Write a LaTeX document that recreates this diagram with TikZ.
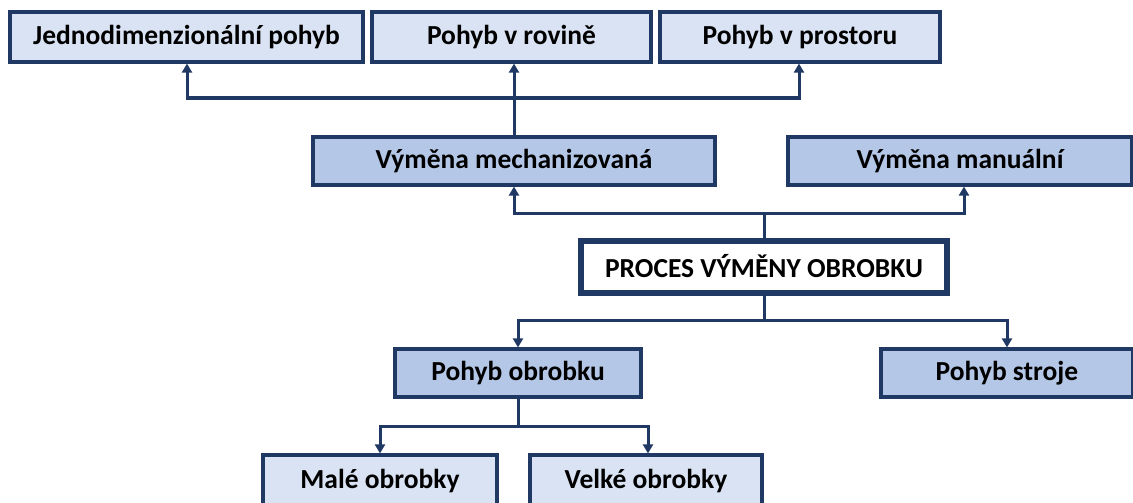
\documentclass[tikz,border=0pt]{standalone}
\usepackage{fontspec}
\setmainfont{Carlito}
\usetikzlibrary{arrows.meta}
\definecolor{navy}{HTML}{203864}
\definecolor{lightfill}{HTML}{DAE3F3}
\definecolor{midfill}{HTML}{B4C7E7}
\tikzset{
  box/.style={draw=navy, line width=3.2pt, font=\bfseries\fontsize{27.5}{30}\selectfont, inner sep=0pt, text=black},
  lightbox/.style={box, fill=lightfill},
  midbox/.style={box, fill=midfill},
  mainbox/.style={box, draw=navy, line width=6pt, fill=white},
  conn/.style={draw=navy, line width=3pt},
  arr/.style={conn, -{Triangle[length=9pt,width=10pt]}}
}
\begin{document}
\begin{tikzpicture}[x=1pt,y=-1pt]
\useasboundingbox (0,0) rectangle (1133,503);
% top row
\node[lightbox, minimum width=353pt, minimum height=50pt] (jed) at (186.5,37) {Jednodimenzionální pohyb};
\node[lightbox, minimum width=279pt, minimum height=50pt] (rov) at (511.5,37) {Pohyb v rovině};
\node[lightbox, minimum width=280pt, minimum height=50pt] (pro) at (800,37) {Pohyb v prostoru};
% second row
\node[midbox, minimum width=402pt, minimum height=48pt] (mech) at (514,161) {Výměna mechanizovaná};
\node[midbox, minimum width=344pt, minimum height=48pt] (man) at (960,161) {Výměna manuální};
% main
\node[mainbox, minimum width=366pt, minimum height=52pt] (proc) at (764,266.5) {PROCES VÝMĚNY OBROBKU};
% fourth row
\node[midbox, minimum width=246pt, minimum height=48pt] (pob) at (518,373) {Pohyb obrobku};
\node[midbox, minimum width=252pt, minimum height=48pt] (pst) at (1007,373) {Pohyb stroje};
% bottom row
\node[lightbox, minimum width=234pt, minimum height=52pt] (mal) at (380,481) {Malé obrobky};
\node[lightbox, minimum width=232pt, minimum height=52pt] (vel) at (646,481) {Velké obrobky};
% coordinates
\coordinate (t1) at (514,98);
\coordinate (t2) at (764,213);
\coordinate (t3) at (764,320);
\coordinate (t4) at (518,426);
% connectors top
\draw[conn] (mech.north -| t1) -- (t1);
\draw[arr] (t1) -- (rov.south -| t1);
\draw[arr] (t1) -| ([xshift=0.5pt]jed.south);
\draw[arr] (t1) -| ([xshift=-1pt]pro.south);
% connectors to second row
\draw[conn] (proc.north) -- (t2);
\draw[arr] (t2) -| (mech.south);
\draw[arr] (t2) -| ([xshift=4pt]man.south);
% connectors to fourth row
\draw[conn] (proc.south) -- (t3);
\draw[arr] (t3) -| (pob.north);
\draw[arr] (t3) -| (pst.north);
% connectors bottom
\draw[conn] (pob.south) -- (t4);
\draw[arr] (t4) -| (mal.north);
\draw[arr] (t4) -| ([xshift=2pt]vel.north);
\end{tikzpicture}
\end{document}
